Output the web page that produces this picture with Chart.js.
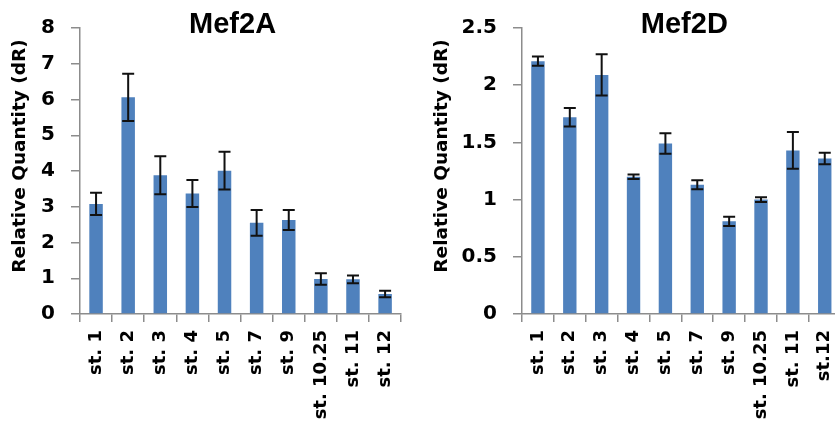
<!DOCTYPE html>
<html>
<head>
<meta charset="utf-8">
<script src="https://cdn.jsdelivr.net/npm/chart.js@4.4.0/dist/chart.umd.min.js"></script>
<style>
  body { margin: 0; background: #fff; overflow: hidden; width: 835px; height: 424px; position: relative; }
  canvas { position: absolute; top: 0; }
</style>
</head>
<body>
<canvas id="mef2a" width="415" height="424" style="left:0"></canvas>
<canvas id="mef2d" width="440" height="424" style="left:415px"></canvas>
<script>
// stages
const stagesA = ["st. 1", "st. 2", "st. 3", "st. 4", "st. 5", "st. 7", "st. 9", "st. 10.25", "st. 11", "st. 12"];
const stagesD = ["st. 1", "st. 2", "st. 3", "st. 4", "st. 5", "st. 7", "st. 9", "st. 10.25", "st. 11", "st.12"];

// Mef2A relative quantity + error
const mef2aValues = [3.08, 6.06, 3.88, 3.37, 4.01, 2.55, 2.63, 0.98, 0.97, 0.56];
const mef2aErrors = [0.31, 0.66, 0.53, 0.38, 0.53, 0.36, 0.28, 0.16, 0.11, 0.09];

// Mef2D relative quantity + error
const mef2dValues = [2.21, 1.72, 2.09, 1.2, 1.49, 1.13, 0.81, 1.0, 1.43, 1.36];
const mef2dErrors = [0.04, 0.08, 0.18, 0.02, 0.09, 0.04, 0.04, 0.02, 0.16, 0.05];

const yTitle = "Relative Quantity (dR)";
const FONT = "DejaVu Sans";
const AXIS = "#8c8c8c";
const BAR = "#4f81bd";

// error bars + chart titles drawn on the canvas
const extras = {
  id: "extras",
  afterDatasetsDraw(chart, args, opts) {
    const ctx = chart.ctx;
    const meta = chart.getDatasetMeta(0);
    const y = chart.scales.y;
    ctx.save();
    ctx.strokeStyle = "#111";
    ctx.lineWidth = 2;
    meta.data.forEach((bar, i) => {
      const v = opts.values[i], e = opts.errors[i];
      const top = y.getPixelForValue(v + e);
      const bot = y.getPixelForValue(v - e);
      ctx.beginPath();
      ctx.moveTo(bar.x, top); ctx.lineTo(bar.x, bot);
      ctx.moveTo(bar.x - 6, top); ctx.lineTo(bar.x + 6, top);
      ctx.moveTo(bar.x - 6, bot); ctx.lineTo(bar.x + 6, bot);
      ctx.stroke();
    });
    ctx.restore();
  },
  afterDraw(chart, args, opts) {
    const ctx = chart.ctx;
    const area = chart.chartArea;
    ctx.save();
    ctx.fillStyle = "#000";
    ctx.font = "bold 29px 'Liberation Sans'";
    ctx.textAlign = "center";
    ctx.textBaseline = "alphabetic";
    ctx.fillText(opts.title, (area.left + area.right) / 2 + opts.titleDx, 33);
    ctx.font = "bold 18.5px '" + FONT + "'";
    ctx.translate(opts.yTitleX, 156);
    ctx.rotate(-Math.PI / 2);
    ctx.textBaseline = "middle";
    ctx.fillText(yTitle, 0, 0);
    ctx.restore();
  }
};

function makeChart(id, labels, values, errors, title, yMax, yStep, axisWidth, pad, yTitleX, titleDx) {
  return new Chart(document.getElementById(id), {
    type: "bar",
    data: {
      labels: labels,
      datasets: [{
        data: values,
        backgroundColor: BAR,
        barPercentage: 0.42,
        categoryPercentage: 1
      }]
    },
    options: {
      responsive: false,
      animation: false,
      layout: { padding: pad },
      plugins: {
        legend: { display: false },
        tooltip: { enabled: false },
        extras: { values: values, errors: errors, title: title, yTitleX: yTitleX, titleDx: titleDx }
      },
      scales: {
        x: {
          grid: { offset: true, drawOnChartArea: false, tickLength: 8, color: AXIS, lineWidth: 1.5 },
          border: { color: AXIS, width: 1.5 },
          ticks: { minRotation: 90, maxRotation: 90, autoSkip: false, color: "#000", padding: 8,
                   font: { family: FONT, size: 18, weight: "bold" } },
          afterFit(s) { s.height = 110; }
        },
        y: {
          min: 0, max: yMax,
          grid: { drawOnChartArea: false, tickLength: 9, color: AXIS, lineWidth: 1.5 },
          border: { color: AXIS, width: 1.5 },
          ticks: { stepSize: yStep, color: "#000", padding: 16,
                   font: { family: FONT, size: 20, weight: "bold" },
                   callback: (v) => String(v) },
          afterFit(s) { s.width = axisWidth; }
        }
      }
    },
    plugins: [extras]
  });
}

makeChart("mef2a", stagesA, mef2aValues, mef2aErrors, "Mef2A", 8, 1, 80,
  { left: 0, right: 6, top: 28, bottom: 0 }, 20, -8);
makeChart("mef2d", stagesD, mef2dValues, mef2dErrors, "Mef2D", 2.5, 0.5, 107,
  { left: 0, right: 13, top: 23, bottom: 0 }, 27, 3);
</script>
</body>
</html>
